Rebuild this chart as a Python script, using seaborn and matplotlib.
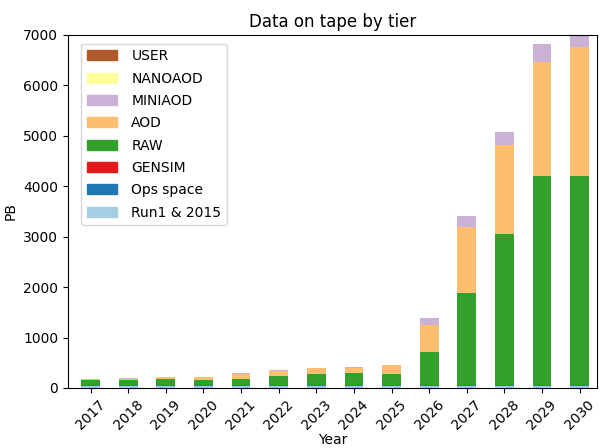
import matplotlib
matplotlib.use("Agg")
import matplotlib.pyplot as plt
from matplotlib.patches import Patch
import numpy as np
import seaborn as sns

years = [str(y) for y in range(2017, 2031)]

# PB per tier (bottom of stack first)
run1_2015 = [40, 40, 40, 40, 40, 40, 40, 40, 40, 40, 40, 40, 40, 40]
ops_space = [20, 20, 20, 20, 20, 20, 20, 20, 20, 20, 20, 20, 20, 20]
gensim = [0, 0, 0, 0, 0, 0, 0, 0, 0, 0, 0, 0, 0, 0]
raw = [100, 100, 110, 100, 120, 170, 220, 230, 220, 660, 1830, 3000, 4140, 4140]
aod = [20, 25, 40, 50, 100, 110, 110, 110, 170, 530, 1310, 1750, 2260, 2560]
miniaod = [5, 5, 10, 10, 10, 15, 15, 15, 15, 140, 200, 260, 360, 300]
nanoaod = [0, 0, 0, 0, 0, 0, 0, 0, 0, 0, 0, 0, 0, 0]
user = [0, 0, 0, 0, 0, 0, 0, 0, 0, 0, 0, 0, 0, 0]

tiers = ["Run1 & 2015", "Ops space", "GENSIM", "RAW", "AOD", "MINIAOD", "NANOAOD", "USER"]
values = [run1_2015, ops_space, gensim, raw, aod, miniaod, nanoaod, user]

pal = sns.color_palette("Paired", 12)
colors = {
    "Run1 & 2015": pal[0],
    "Ops space": pal[1],
    "GENSIM": pal[5],
    "RAW": pal[3],
    "AOD": pal[6],
    "MINIAOD": pal[8],
    "NANOAOD": pal[10],
    "USER": pal[11],
}

fig = plt.figure(figsize=(6.02, 4.48), dpi=100)
ax = fig.add_axes([0.113, 0.134, 0.878, 0.788])

bottom = np.zeros(len(years))
for name, vals in zip(tiers, values):
    sns.barplot(x=years, y=vals, bottom=bottom, color=colors[name],
                width=0.5, errorbar=None, saturation=1, ax=ax)
    bottom = bottom + np.array(vals)

handles = [Patch(color=colors[n], label=n) for n in tiers[::-1]]
ax.legend(handles=handles, loc="upper left", bbox_to_anchor=(0.012, 0.995),
          labelspacing=0.6, handletextpad=1.0, handlelength=2.2)

ax.set_ylim(0, 7000)
ax.set_xlim(-0.6, 13.45)
ax.set_title("Data on tape by tier")
ax.set_xlabel("Year", labelpad=0)
ax.set_ylabel("PB")
ax.tick_params(axis="x", rotation=45)

fig.savefig("out.png", dpi=100)
